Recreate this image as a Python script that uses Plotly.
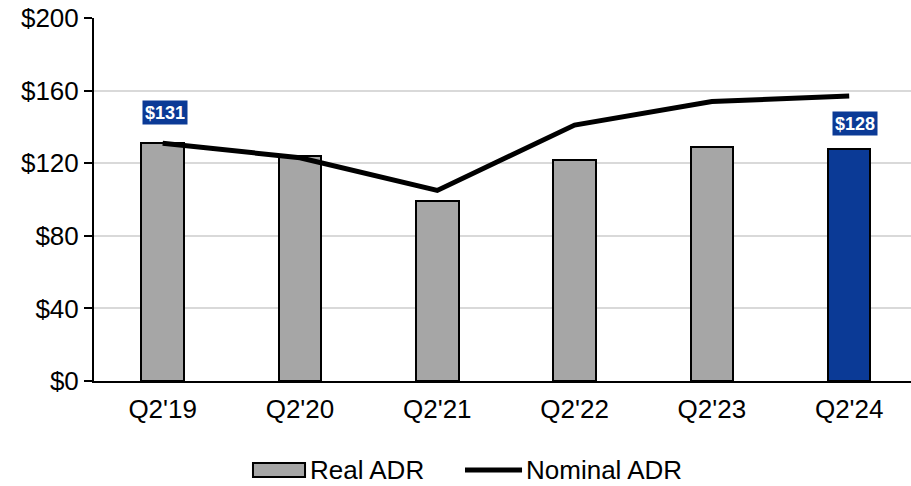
import plotly.graph_objects as go

quarters = ["Q2'19", "Q2'20", "Q2'21", "Q2'22", "Q2'23", "Q2'24"]
real_adr = [131, 124, 99, 122, 129, 128]
nominal_adr = [131, 123, 105, 141, 154, 157]
y_ticks = [0, 40, 80, 120, 160, 200]

GRAY = "#A6A6A6"
BLUE = "#0B3A96"
FONT = "'Liberation Sans', Arial, sans-serif"
LABEL_FONT = "'Liberation Sans Narrow', 'Arial Narrow', 'Liberation Sans', Arial, sans-serif"

bar_colors = [GRAY] * (len(quarters) - 1) + [BLUE]

fig = go.Figure()
fig.add_trace(go.Bar(
    x=quarters, y=real_adr, name="Real ADR",
    marker=dict(color=bar_colors, line=dict(color="black", width=2)),
    width=0.31, showlegend=False,
))
fig.add_trace(go.Scatter(
    x=quarters, y=nominal_adr, name="Nominal ADR", mode="lines",
    line=dict(color="black", width=5), showlegend=False,
))

# Value callouts for the first and latest quarter
for idx, yshift, xshift in [(0, 31, 2), (len(quarters) - 1, 25, 6)]:
    fig.add_annotation(
        x=quarters[idx], y=real_adr[idx], yshift=yshift, xshift=xshift,
        text=f"<b>${real_adr[idx]}</b>", showarrow=False,
        font=dict(family=LABEL_FONT, size=18, color="white"),
        bgcolor=BLUE, borderpad=2, width=40, height=19,
    )

# Legend drawn below the plot: wide bar swatch and thick line swatch
fig.add_shape(type="rect", xref="paper", yref="paper",
              x0=0.1946, x1=0.2583, y0=-0.2645, y1=-0.2259,
              fillcolor=GRAY, line=dict(color="black", width=2))
fig.add_annotation(xref="paper", yref="paper", x=0.2619, y=-0.2452,
                   xanchor="left", yanchor="middle", showarrow=False,
                   text="Real ADR", font=dict(family=FONT, size=26, color="black"))
fig.add_shape(type="line", xref="paper", yref="paper",
              x0=0.4541, x1=0.5239, y0=-0.2452, y1=-0.2452,
              line=dict(color="black", width=5))
fig.add_annotation(xref="paper", yref="paper", x=0.5263, y=-0.2452,
                   xanchor="left", yanchor="middle", showarrow=False,
                   text="Nominal ADR", font=dict(family=FONT, size=26, color="black"))

fig.update_layout(
    width=911, height=486,
    margin=dict(l=94, r=0, t=18, b=105),
    plot_bgcolor="white", paper_bgcolor="white",
    font=dict(family=FONT, size=26, color="black"),
    showlegend=False,
    bargap=0,
)
fig.update_xaxes(
    range=[-0.5, 5.45], showline=True, linecolor="black", linewidth=2,
    ticks="", showgrid=False, ticklabelstandoff=4,
)
fig.update_yaxes(
    range=[0, 200], tickvals=y_ticks, ticktext=[f"${v}" for v in y_ticks],
    showline=True, linecolor="black", linewidth=2,
    ticks="outside", ticklen=8, tickcolor="black", tickwidth=1.5,
    showgrid=True, gridcolor="#D9D9D9", gridwidth=1.5,
    zeroline=False,
)

fig.write_html("out.html")
